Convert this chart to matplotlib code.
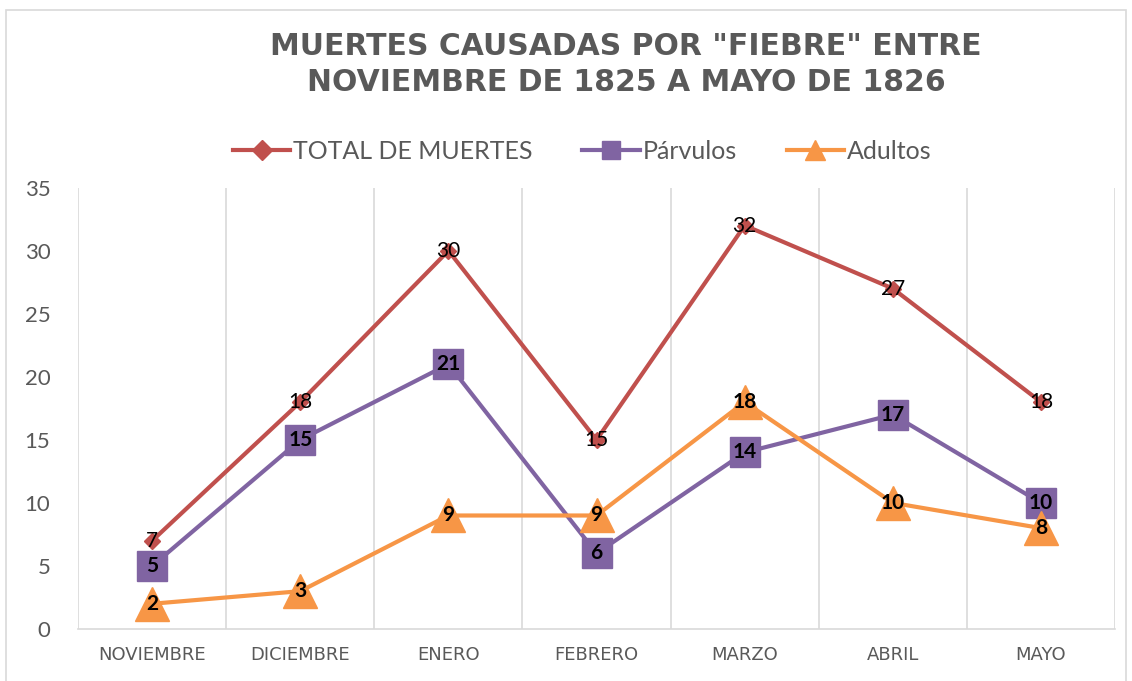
import numpy as np
import matplotlib.pyplot as plt
from matplotlib.patches import Rectangle
from matplotlib.lines import Line2D

meses = ['NOVIEMBRE', 'DICIEMBRE', 'ENERO', 'FEBRERO', 'MARZO', 'ABRIL', 'MAYO']
total = [7, 18, 30, 15, 32, 27, 18]
parvulos = [5, 15, 21, 6, 14, 17, 10]
adultos = [2, 3, 9, 9, 18, 10, 8]

plt.rcParams['font.family'] = ['Lato', 'DejaVu Sans']
gris = '#595959'
rojo, morado, naranja = '#C0504D', '#8064A2', '#F79646'

fig = plt.figure(figsize=(11.32, 6.81), dpi=100)
fig.patches.append(Rectangle((0.005, -0.01), 0.99, 0.995, transform=fig.transFigure,
                             fill=False, edgecolor='#d9d9d9', linewidth=1.2))
ax = fig.add_axes([0.069, 0.0764, 0.916, 0.648])

x = np.arange(len(meses))
ax.plot(x, total, color=rojo, lw=3, marker='D', ms=8, zorder=3)
ax.plot(x, parvulos, color=morado, lw=3, marker='s', ms=22, zorder=4)
ax.plot(x, adultos, color=naranja, lw=3, marker='^', ms=24, zorder=5)

for xi, v in zip(x, total):
    ax.text(xi, v, str(v), ha='center', va='center', fontsize=15, color='black', zorder=6)
for xi, v in zip(x, parvulos):
    ax.text(xi, v, str(v), ha='center', va='center', fontsize=15, fontweight='bold', color='black', zorder=6)
for xi, v in zip(x, adultos):
    ax.text(xi, v, str(v), ha='center', va='center', fontsize=15, fontweight='bold', color='black', zorder=7)

ax.set_xlim(-0.5, len(meses) - 0.5)
ax.set_ylim(0, 35)
ax.set_yticks(range(0, 36, 5))
ax.set_xticks(x)
ax.set_xticklabels(meses, family='DejaVu Sans')
for xv in np.arange(-0.5, len(meses), 1.0):
    ax.axvline(xv, color='#d9d9d9', lw=1.2, zorder=0)

for s in ['top', 'right', 'left']:
    ax.spines[s].set_visible(False)
ax.spines['bottom'].set_color('#d9d9d9')
ax.spines['bottom'].set_linewidth(1.2)
ax.tick_params(axis='both', length=0)
ax.tick_params(axis='y', labelsize=16, labelcolor=gris, pad=20)
ax.tick_params(axis='x', labelsize=13, labelcolor=gris, pad=12)

fig.text(0.553, 0.905, 'MUERTES CAUSADAS POR "FIEBRE" ENTRE\nNOVIEMBRE DE 1825 A MAYO DE 1826',
         ha='center', va='center', fontsize=21.5, fontweight='bold', color=gris, linespacing=1.3,
         family='DejaVu Sans')

handles = [
    Line2D([], [], color=rojo, lw=3, marker='D', ms=10),
    Line2D([], [], color=morado, lw=3, marker='s', ms=13),
    Line2D([], [], color=naranja, lw=3, marker='^', ms=14),
]
ax.legend(handles, ['TOTAL DE MUERTES', 'Párvulos', 'Adultos'],
          loc='center', bbox_to_anchor=(0.486, 1.082), ncol=3, frameon=False,
          prop={'family': 'Lato', 'size': 18}, labelcolor=gris,
          handlelength=2.3, handletextpad=0.1, columnspacing=2.0)

fig.savefig('out.png', dpi=100)
